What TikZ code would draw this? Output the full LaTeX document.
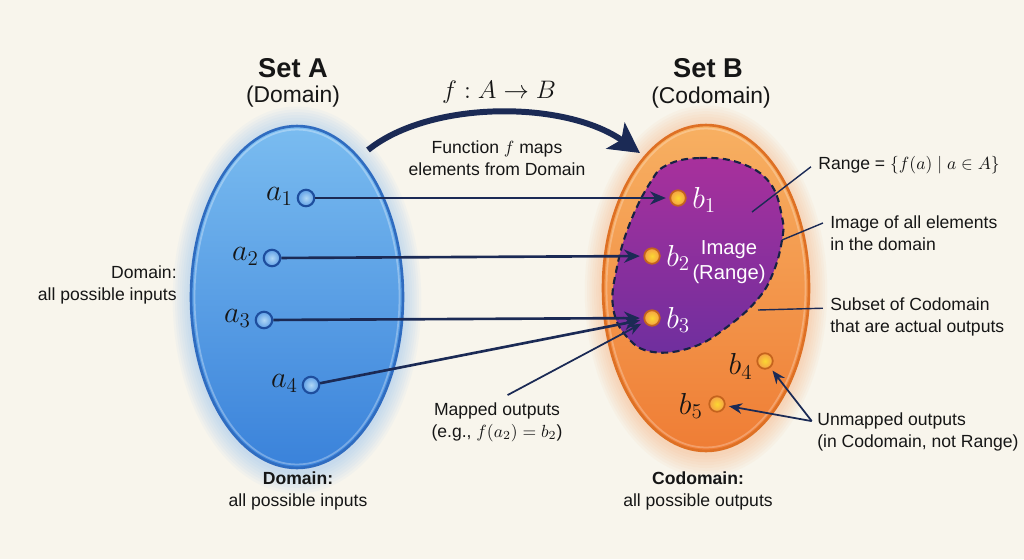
\documentclass[tikz,border=0pt]{standalone}
\usepackage[no-math]{fontspec}
\setmainfont{Liberation Sans}
\usetikzlibrary{arrows.meta}
\definecolor{bg}{HTML}{F8F5EC}
\definecolor{navy}{HTML}{1B2A55}
\definecolor{blueL}{HTML}{7ABCF0}
\definecolor{blueM}{HTML}{4F97E3}
\definecolor{blueD}{HTML}{3A82DA}
\definecolor{blueE}{HTML}{2F6CC0}
\definecolor{glowB}{HTML}{6FB2F0}
\definecolor{orL}{HTML}{F7B062}
\definecolor{orM}{HTML}{F49844}
\definecolor{orD}{HTML}{EF7D35}
\definecolor{orE}{HTML}{DE7024}
\definecolor{glowO}{HTML}{F6A060}
\definecolor{puL}{HTML}{A8309C}
\definecolor{puD}{HTML}{6F2F9E}
\definecolor{dotO}{HTML}{F5A045}
\definecolor{dotOE}{HTML}{C4631D}
\definecolor{dotB}{HTML}{5E9FE6}
\definecolor{dotBE}{HTML}{1E4E9E}
\definecolor{ink}{HTML}{161616}
\begin{document}
\begin{tikzpicture}[x=0.02cm,y=-0.02cm,
  txt/.style={inner sep=0pt, font=\fontsize{10}{12.5}\selectfont, text=ink, align=center},
  settitle/.style={inner sep=0pt, font=\fontsize{15.5}{18}\selectfont\bfseries, text=ink},
  setsub/.style={inner sep=0pt, font=\fontsize{13}{15}\selectfont, text=ink},
  mlab/.style={inner sep=0pt, font=\fontsize{17}{19}\selectfont, text=ink},
  bdot/.style={circle, minimum size=0.33cm, inner sep=0pt, draw=dotBE, line width=1.2pt, inner color=blueL!60!white, outer color=dotB},
  odot/.style={circle, minimum size=0.31cm, inner sep=0pt, draw=dotOE, line width=1pt, inner color=orL!50!yellow, outer color=dotO},
  conn/.style={navy, line width=1.5pt, -{Stealth[length=9pt,width=7.5pt]}, shorten >=2pt},
  lead/.style={navy, line width=0.8pt},
  leadarrow/.style={navy, line width=1pt, -{Stealth[length=7.5pt,width=6pt]}, shorten >=2pt},
  blob/.style={dashed, dash pattern=on 4pt off 2.5pt, draw=navy!80!black, line width=1.2pt}
]
\fill[bg] (0,0) rectangle (1024,559);
\useasboundingbox (0,0) rectangle (1024,559);

% glows
\foreach \i in {1,...,8}{
  \fill[glowB, opacity=0.05] (297,300) ellipse [x radius={2.12cm+\i*1.3pt}, y radius={3.42cm+\i*1.6pt}];
  \fill[glowO, opacity=0.05] (706,291) ellipse [x radius={2.06cm+\i*1.3pt}, y radius={3.26cm+\i*1.6pt}];
}

% Set A ellipse
\shade[top color=blueL, middle color=blueM, bottom color=blueD] (297,297) ellipse [x radius=2.12cm, y radius=3.42cm];
\draw[white, opacity=0.3, line width=1pt] (297,297) ellipse [x radius=2.05cm, y radius=3.35cm];
\draw[blueE, line width=1.5pt] (297,297) ellipse [x radius=2.12cm, y radius=3.42cm];

% Set B ellipse
\shade[top color=orL, middle color=orM, bottom color=orD] (706,288) ellipse [x radius=2.06cm, y radius=3.26cm];
\draw[white, opacity=0.25, line width=1pt] (706,288) ellipse [x radius=1.99cm, y radius=3.19cm];
\draw[orE, line width=1.5pt] (706,288) ellipse [x radius=2.06cm, y radius=3.26cm];

% Image (range) blob
\path[top color=puL, bottom color=puD, blob] plot[smooth cycle, tension=0.7] coordinates {
 (667,165) (700,158) (740,163) (770,183) (782,217) (782,240) (773,273) (757,300)
 (727,327) (693,347) (653,352) (627,337) (613,307) (617,267) (630,223) (650,183)};

% titles
\node[settitle] (tA) at (293,68) {Set A};
\node[setsub] (sA) at (293,97) {(Domain)};
\node[settitle] (tB) at (708,68) {Set B};
\node[setsub] (sB) at (711,98) {(Codomain)};
\node[mlab, font=\fontsize{15}{17}\selectfont] (fab) at (499,92) {$f : A \to B$};
\node[txt] (fdesc) at (497,158) {Function $f$ maps\\elements from Domain};

% big curved arrow
\coordinate (cs) at (368,150);
\coordinate (ce) at (640,153);
\draw[navy, line width=3.4pt, -{Stealth[length=17pt,width=18pt,inset=4pt]}] (cs) .. controls (430,100) and (565,100) .. (ce);

% elements A
\node[bdot] (a1) at (306,198) {};
\node[bdot] (a2) at (272,258) {};
\node[bdot] (a3) at (264,320) {};
\node[bdot] (a4) at (311,385) {};
\node[mlab, anchor=east] (la1) at ([xshift=-2pt,yshift=1pt]a1.west) {$a_1$};
\node[mlab, anchor=east] (la2) at ([xshift=-2pt,yshift=1pt]a2.west) {$a_2$};
\node[mlab, anchor=east] (la3) at ([xshift=-2pt,yshift=1pt]a3.west) {$a_3$};
\node[mlab, anchor=east] (la4) at ([xshift=-2pt,yshift=1pt]a4.west) {$a_4$};

% elements B
\node[odot] (b1) at (678,198) {};
\node[odot] (b2) at (652,256) {};
\node[odot] (b3) at (652,318) {};
\node[odot] (b4) at (765,361) {};
\node[odot] (b5) at (717,404) {};
\node[mlab, anchor=west, text=white] (lb1) at ([xshift=3pt,yshift=-1pt]b1.east) {$b_1$};
\node[mlab, anchor=west, text=white] (lb2) at ([xshift=3pt,yshift=-1pt]b2.east) {$b_2$};
\node[mlab, anchor=west, text=white] (lb3) at ([xshift=3pt,yshift=-1pt]b3.east) {$b_3$};
\node[mlab, anchor=east] (lb4) at ([xshift=-2pt,yshift=-3pt]b4.west) {$b_4$};
\node[mlab, anchor=east] (lb5) at ([xshift=-3pt,yshift=-1pt]b5.west) {$b_5$};

\node[txt, text=white, font=\fontsize{11.5}{14}\selectfont] (im) at (729,262) {Image\\(Range)};

% mapping arrows
\draw[conn] (a1) -- (b1);
\draw[conn] (a2) -- (b2);
\draw[conn] (a3) -- (b3);
\draw[conn] (a4) -- (b3);

% side labels
\node[txt, align=right, anchor=east] (dl) at (177,285) {Domain:\\all possible inputs};
\node[txt] (db) at (298,491) {\textbf{Domain:}\\all possible inputs};
\node[txt] (cb) at (698,491) {\textbf{Codomain:}\\all possible outputs};
\node[txt] (mo) at (497,422) {Mapped outputs\\(e.g., $f(a_2)=b_2$)};
\node[txt, align=left, anchor=west] (uo) at (817,432) {Unmapped outputs\\(in Codomain, not Range)};
\node[txt, anchor=west] (rg) at (818,165) {Range = $\{f(a)\mid a\in A\}$};
\node[txt, align=left, anchor=west] (io) at (830,233) {Image of all elements\\in the domain};
\node[txt, align=left, anchor=west] (so) at (830,317) {Subset of Codomain\\that are actual outputs};

% leader lines
\coordinate (rgp) at (752,212);
\coordinate (iop) at (782,240);
\coordinate (sop) at (758,310);
\draw[lead] ([xshift=-4pt,yshift=-1pt]rg.west) -- (rgp);
\draw[lead] ([xshift=-4pt,yshift=5.7pt]io.west) -- (iop);
\draw[lead] ([xshift=-4pt,yshift=5pt]so.west) -- (sop);
\draw[leadarrow] ([xshift=6pt,yshift=4pt]mo.north) -- (b3);
\draw[leadarrow] ([xshift=-3pt,yshift=6.2pt]uo.west) -- (b4);
\draw[leadarrow] ([xshift=-3pt,yshift=6.2pt]uo.west) -- (b5);
\end{tikzpicture}
\end{document}
